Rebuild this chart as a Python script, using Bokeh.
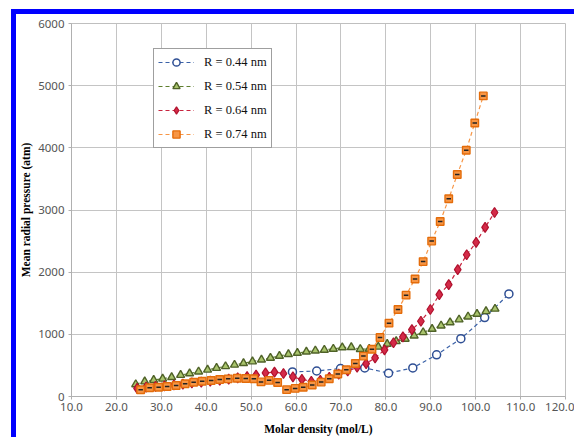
from bokeh.plotting import figure
from bokeh.models import FixedTicker, PrintfTickFormatter, Legend, LegendItem
from bokeh.embed import file_html
from bokeh.resources import INLINE

# ---- data ----
x_ticks = [10, 20, 30, 40, 50, 60, 70, 80, 90, 100, 110, 120]
y_ticks = [0, 1000, 2000, 3000, 4000, 5000, 6000]

labels = ["R = 0.44 nm", "R = 0.54 nm", "R = 0.64 nm", "R = 0.74 nm"]

x_044 = [59.2, 64.6, 69.9, 75.3, 80.6, 86.0, 91.3, 96.7, 102.0, 107.4]
y_044 = [395, 410, 450, 460, 375, 460, 670, 930, 1270, 1650]

x_054 = [24.3, 26.3, 28.3, 30.3, 32.3, 34.3, 36.3, 38.3, 40.3, 42.3, 44.3, 46.3,
         48.3, 50.3, 52.3, 54.3, 56.3, 58.3, 60.3, 62.3, 64.3, 66.3, 68.3, 70.3,
         72.3, 74.3, 76.3, 78.3, 80.3, 82.3, 84.3, 86.3, 88.3, 90.3, 92.3, 94.3,
         96.3, 98.3, 100.3, 102.3, 104.3]
y_054 = [195, 240, 265, 285, 310, 345, 370, 400, 430, 458, 485, 509,
         535, 562, 592, 621, 652, 680, 700, 720, 738, 750, 766, 788,
         792, 762, 765, 800, 845, 888, 927, 978, 1032, 1086, 1140, 1192,
         1237, 1285, 1328, 1370, 1410]

x_064 = [24.6, 26.6, 28.7, 30.7, 32.8, 34.8, 36.8, 38.9, 40.9, 43.0, 45.0, 47.0,
         49.1, 51.1, 53.2, 55.2, 57.2, 59.3, 61.3, 63.4, 65.4, 67.4, 69.5, 71.5,
         73.6, 75.6, 77.6, 79.7, 81.7, 83.8, 85.8, 87.8, 89.9, 91.9, 94.0, 96.0,
         98.0, 100.1, 102.1, 104.2]
y_064 = [130, 150, 162, 172, 185, 200, 218, 232, 248, 262, 280, 300,
         320, 345, 380, 392, 370, 315, 275, 245, 262, 310, 360, 410,
         470, 530, 620, 750, 865, 960, 1075, 1210, 1400, 1640, 1800, 2040,
         2280, 2480, 2720, 2960]

x_074 = [25.4, 27.4, 29.4, 31.3, 33.3, 35.3, 37.2, 39.1, 41.1, 43.0, 44.9, 46.9,
         48.8, 50.6, 52.2, 54.0, 55.9, 57.9, 59.8, 61.6, 63.6, 65.6, 67.4, 69.3,
         71.2, 73.2, 75.0, 76.9, 78.7, 80.7, 82.7, 84.5, 86.5, 88.3, 90.2, 92.1,
         94.0, 95.9, 97.9, 99.8, 101.7]
y_074 = [108, 140, 150, 161, 177, 204, 230, 246, 257, 273, 284, 294,
         290, 285, 235, 260, 225, 110, 130, 148, 185, 232, 285, 362,
         430, 530, 650, 760, 950, 1180, 1400, 1630, 1890, 2170, 2500, 2815,
         3180, 3570, 3960, 4400, 4835]

# ---- figure ----
p = figure(width=563, height=428, x_range=(10, 120), y_range=(0, 6000),
           output_backend="svg", toolbar_location=None,
           min_border_left=55, min_border_right=14, min_border_top=9,
           min_border_bottom=46)
p.styles = {"margin-left": "11px", "margin-top": "9px",
            "border-left": "5px solid #0000ff", "border-top": "5px solid #0000ff"}

p.background_fill_color = "white"
p.border_fill_color = "white"
p.outline_line_color = "#bfbfbf"

grid_col = "#c4c4c4"
p.xgrid.grid_line_color = grid_col
p.ygrid.grid_line_color = grid_col

p.xaxis.ticker = FixedTicker(ticks=x_ticks)
p.yaxis.ticker = FixedTicker(ticks=y_ticks)
p.xaxis.formatter = PrintfTickFormatter(format="%.1f")

for ax in (p.xaxis, p.yaxis):
    ax.axis_line_color = "#b0b0b0"
    ax.major_tick_line_color = "#b0b0b0"
    ax.major_tick_in = 0
    ax.major_tick_out = 3
    ax.minor_tick_line_color = None
    ax.major_label_text_font = "Noto Sans"
    ax.major_label_text_font_size = "11.5px"
    ax.major_label_text_color = "#555555"
    ax.axis_label_text_font = "Liberation Serif"
    ax.axis_label_text_font_style = "bold"
    ax.axis_label_text_font_size = "11.5px"
    ax.axis_label_text_color = "black"

p.xaxis.axis_label = "Molar density (mol/L)"
p.yaxis.axis_label = "Mean radial pressure (atm)"
p.xaxis.major_label_standoff = 3
p.xaxis.axis_label_standoff = 9
p.yaxis.major_label_standoff = 4
p.yaxis.axis_label_standoff = 3

dash = "4 3"
items = []

l1 = p.line(x_044, y_044, line_color="#3b62a8", line_dash=dash, line_width=1.2)
s1 = p.scatter(x_044, y_044, marker="circle", size=8, line_color="#2f4f94",
               line_width=1.5, fill_color="white")
items.append(LegendItem(label=labels[0], renderers=[l1, s1]))

l2 = p.line(x_054, y_054, line_color="#5f7f2e", line_dash=dash, line_width=1.2)
s2 = p.scatter(x_054, y_054, marker="triangle", size=8, line_color="#4f6228",
               line_width=1.4, fill_color="#a9c46c")
items.append(LegendItem(label=labels[1], renderers=[l2, s2]))

l3 = p.line(x_064, y_064, line_color="#c8243f", line_dash=dash, line_width=1.2)
s3 = p.scatter(x_064, y_064, marker="diamond", size=10, line_color="#b0122e",
               line_width=1.2, fill_color="#d42a48")
items.append(LegendItem(label=labels[2], renderers=[l3, s3]))

l4 = p.line(x_074, y_074, line_color="#f79646", line_dash=dash, line_width=1.2)
s4 = p.scatter(x_074, y_074, marker="square", size=7.5, line_color="#e46c0a",
               line_width=1.4, fill_color="#f79646")
p.scatter(x_074, y_074, marker="dash", size=4.5, line_color="#222222", line_width=1.5)
items.append(LegendItem(label=labels[3], renderers=[l4, s4]))

legend = Legend(items=items, location=(82, 248))
legend.label_text_font = "Liberation Serif"
legend.label_text_font_size = "12.5px"
legend.label_text_color = "#111111"
legend.border_line_color = "#404040"
legend.border_line_width = 1
legend.background_fill_color = "white"
legend.background_fill_alpha = 1
legend.padding = 4
legend.margin = 0
legend.spacing = 6
legend.glyph_width = 36
legend.glyph_height = 18
legend.label_height = 18
legend.label_standoff = 10
p.add_layout(legend, "center")

open("out.html", "w").write(file_html(p, INLINE))
